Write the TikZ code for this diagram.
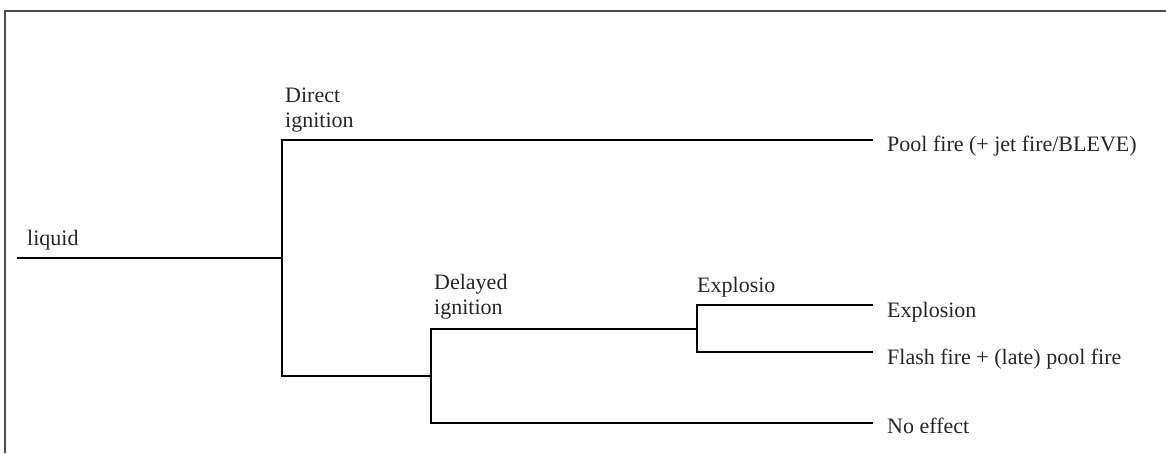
\documentclass[tikz,border=0pt]{standalone}
\usepackage{fontspec}
\setmainfont{Liberation Serif}
\usetikzlibrary{positioning}
\tikzstyle{event}=[align=left, inner sep=0pt, text=black!85]
\tikzstyle{result}=[anchor=base west, inner xsep=14pt, inner ysep=0pt, text=black!85]
\tikzstyle{line}=[line width=2pt]
\tikzstyle{frame}=[line width=1.3pt, black!70]

\begin{document}
\begin{tikzpicture}[x=1pt,y=-1pt,font=\fontsize{22}{25}\selectfont]
    \useasboundingbox (0,0) rectangle (1166,453);
    \draw[frame] (5,453) -- (5,11) -- (1166,11);
    % branch points
    \coordinate (s) at (17,258);
    \coordinate (a) at (282,258);
    \coordinate (a1) at (282,140);
    \coordinate (a2) at (282,376);
    \coordinate (b) at (431,376);
    \coordinate (b1) at (431,329);
    \coordinate (b2) at (431,423);
    \coordinate (c) at (697,329);
    \coordinate (c1) at (697,305);
    \coordinate (c2) at (697,352);
    % events
    \node [event] (liq) [above right=8pt and 10pt of s] {liquid};
    \node [event] (dir) [above right=8pt and 3pt of a1] {Direct\\ignition};
    \node [event] (del) [above right=10pt and 3pt of b1] {Delayed\\ignition};
    \node [event] (exp) [above right=8pt and 0pt of c1] {Explosio};
    % outcomes
    \node [result] (r1) at (873,151) {Pool fire (+ jet fire/BLEVE)};
    \node [result] (r2) at (873,317) {Explosion};
    \node [result] (r3) at (873,364) {Flash fire + (late) pool fire};
    \node [result] (r4) at (873,433) {No effect};
    \draw[line] (s) -- (a);
    \draw[line] (r1.west |- a1) -- (a1) -- (a2) -- (b);
    \draw[line] (c) -- (b1) -- (b2) -- (r4.west |- b2);
    \draw[line] (r2.west |- c1) -- (c1) -- (c2) -- (r3.west |- c2);
\end{tikzpicture}
\end{document}
